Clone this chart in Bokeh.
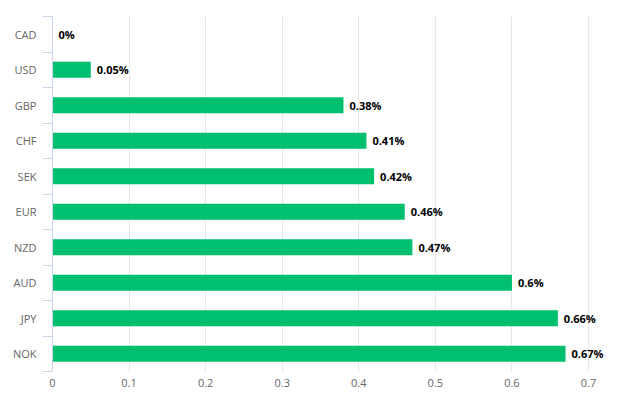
from bokeh.plotting import figure
from bokeh.models import ColumnDataSource, Range1d, FixedTicker, LabelSet
from bokeh.embed import file_html
from bokeh.resources import INLINE
from bokeh.core.properties import value

currencies = ["CAD", "USD", "GBP", "CHF", "SEK", "EUR", "NZD", "AUD", "JPY", "NOK"]
values = [0, 0.05, 0.38, 0.41, 0.42, 0.46, 0.47, 0.6, 0.66, 0.67]
x_ticks = [0, 0.1, 0.2, 0.3, 0.4, 0.5, 0.6, 0.7]

pos = list(range(len(currencies)))
labels = [f"{v:g}%" for v in values]
src = ColumnDataSource(dict(y=pos, v=values, lab=labels))

# frame extends past the 0.7 gridline so data labels are not clipped
frame_w = 563
axis_w = 536
x_end = 0.7 * frame_w / axis_w

p = figure(frame_width=frame_w, frame_height=355, output_backend="svg", toolbar_location=None,
           x_range=Range1d(0, x_end), y_range=Range1d(len(currencies) - 0.5, -0.5),
           min_border_left=52, min_border_right=5, min_border_top=16, min_border_bottom=20,
           x_axis_location="below", y_axis_location="left")
p.outline_line_color = None
p.background_fill_color = "white"
p.border_fill_color = "white"

p.hbar(y="y", right="v", left=0, height=0.45, source=src, color="#00bf6f", line_color=None)
ls = LabelSet(x="v", y="y", text="lab", source=src, x_offset=6, text_baseline="middle",
              text_align="left", text_font=value("Open Sans"), text_font_style="bold",
              text_font_size="11px", text_color="#000000")
p.add_layout(ls)

# x axis
xa = p.xaxis[0]
xa.ticker = FixedTicker(ticks=x_ticks)
xa.axis_line_color = None
xa.major_tick_line_color = None
xa.minor_tick_line_color = None
xa.major_tick_out = 0
xa.major_tick_in = 0
xa.major_label_text_font = "Open Sans"
xa.major_label_text_font_size = "11px"
xa.major_label_text_color = "#666666"
xa.major_label_standoff = 7

# y axis
ya = p.yaxis[0]
ya.ticker = FixedTicker(ticks=pos, minor_ticks=[i - 0.5 for i in range(len(currencies) + 1)])
ya.major_label_overrides = {i: c for i, c in enumerate(currencies)}
ya.axis_line_color = "#ccd6eb"
ya.major_tick_line_color = None
ya.minor_tick_line_color = "#ccd6eb"
ya.minor_tick_in = 0
ya.minor_tick_out = 10
ya.major_tick_out = 0
ya.major_tick_in = 0
ya.major_label_standoff = 6
ya.major_label_text_font = "Open Sans"
ya.major_label_text_font_size = "11px"
ya.major_label_text_color = "#666666"

p.xgrid.ticker = FixedTicker(ticks=x_ticks)
p.xgrid.grid_line_color = "#e6e6e6"
p.ygrid.grid_line_color = None

open("out.html", "w").write(file_html(p, INLINE))
